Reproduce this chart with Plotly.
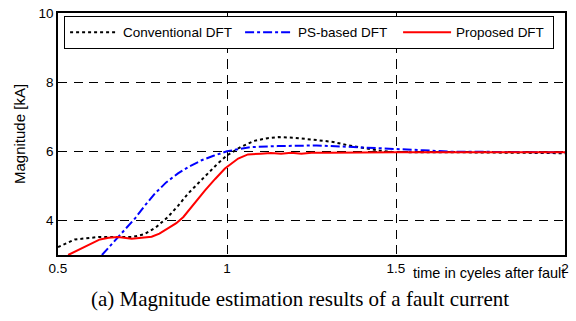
import plotly.graph_objects as go

# Data
conv_x = [0.5, 0.55, 0.62, 0.68, 0.72, 0.755, 0.79, 0.825, 0.855, 0.885, 0.915, 0.944, 0.97, 1.0, 1.04, 1.08, 1.12, 1.152, 1.2, 1.25, 1.314, 1.36, 1.413, 1.45, 1.49, 1.55, 1.6, 1.7, 1.8, 1.9, 1.95, 2.0]
conv_y = [3.23, 3.45, 3.52, 3.52, 3.52, 3.6, 3.8, 4.1, 4.42, 4.78, 5.08, 5.36, 5.62, 5.88, 6.12, 6.3, 6.38, 6.41, 6.39, 6.34, 6.27, 6.17, 6.08, 6.02, 5.98, 5.97, 5.97, 5.97, 5.97, 5.97, 5.95, 5.94]

ps_x = [0.63, 0.655, 0.678, 0.70, 0.728, 0.757, 0.787, 0.82, 0.855, 0.89, 0.925, 0.96, 1.0, 1.068, 1.15, 1.265, 1.384, 1.5, 1.58, 1.66, 1.8, 2.0]
ps_y = [3.0, 3.27, 3.52, 3.78, 4.06, 4.43, 4.78, 5.1, 5.36, 5.57, 5.74, 5.87, 6.0, 6.12, 6.15, 6.17, 6.12, 6.08, 6.03, 5.99, 5.98, 5.97]

red_x = [0.53, 0.58, 0.624, 0.65, 0.678, 0.718, 0.75, 0.777, 0.80, 0.825, 0.85, 0.871, 0.90, 0.935, 0.965, 0.994, 1.033, 1.062, 1.1, 1.13, 1.16, 1.19, 1.22, 1.25, 1.3, 1.4, 1.5, 1.7, 2.0]
red_y = [3.0, 3.23, 3.45, 3.5, 3.52, 3.47, 3.5, 3.53, 3.62, 3.76, 3.92, 4.1, 4.45, 4.87, 5.2, 5.5, 5.79, 5.91, 5.93, 5.95, 5.93, 5.96, 5.93, 5.96, 5.96, 5.97, 5.97, 5.97, 5.97]

x_ticks = [0.5, 1, 1.5, 2]
x_tick_labels = ["0.5", "1", "1.5", "2"]
y_ticks = [4, 6, 8, 10]
y_tick_labels = ["4", "6", "8", "10"]

names = ["Conventional DFT", "PS-based DFT", "Proposed DFT"]

fig = go.Figure()
fig.add_trace(go.Scatter(x=conv_x, y=conv_y, mode="lines", name=names[0], legendwidth=112,
                         line=dict(color="black", width=2, dash="dot")))
fig.add_trace(go.Scatter(x=ps_x, y=ps_y, mode="lines", name=names[1], legendwidth=95,
                         line=dict(color="blue", width=2, dash="dashdot")))
fig.add_trace(go.Scatter(x=red_x, y=red_y, mode="lines", name=names[2], legendwidth=92,
                         line=dict(color="red", width=2)))

font = "Liberation Sans, Arial, sans-serif"
grid = dict(showgrid=True, gridcolor="black", griddash="9px,6.5px", gridwidth=1,
            showline=True, linecolor="black", linewidth=1.5, mirror=True,
            zeroline=False, ticks="", tickfont=dict(size=13.5), automargin=False)
fig.update_layout(
    width=576, height=321,
    margin=dict(l=58, r=11, t=13, b=66, autoexpand=False),
    paper_bgcolor="white", plot_bgcolor="white",
    font=dict(family=font, size=13.5, color="black"),
    showlegend=True,
    legend=dict(orientation="h", x=0.012, y=0.988, xanchor="left", yanchor="top",
                bgcolor="white", bordercolor="black", borderwidth=1,
                font=dict(size=13.5), itemwidth=48),
    xaxis=dict(range=[0.5, 2], tickvals=x_ticks, ticktext=x_tick_labels, **grid),
    yaxis=dict(range=[3, 10], tickvals=y_ticks, ticktext=y_tick_labels, **grid),
    annotations=[
        dict(text="Magnitude [kA]", textangle=-90, xref="paper", yref="paper",
             x=0, y=0.5, xshift=-39, xanchor="center", yanchor="middle",
             showarrow=False, font=dict(size=15, family=font)),
        dict(text="time in cyeles after fault", xref="paper", yref="paper",
             x=1, y=0, yshift=-18, xshift=2, xanchor="right", yanchor="middle",
             showarrow=False, font=dict(size=14.5, family=font)),
        dict(text="(a) Magnitude estimation results of a fault current",
             xref="paper", yref="paper", x=0.477, y=0, yshift=-44,
             xanchor="center", yanchor="middle", showarrow=False,
             font=dict(size=21, family="Liberation Serif, Times New Roman, serif")),
    ],
)

fig.write_html("out.html", config={"displayModeBar": False},
               post_script="document.body.style.margin='0px';")
